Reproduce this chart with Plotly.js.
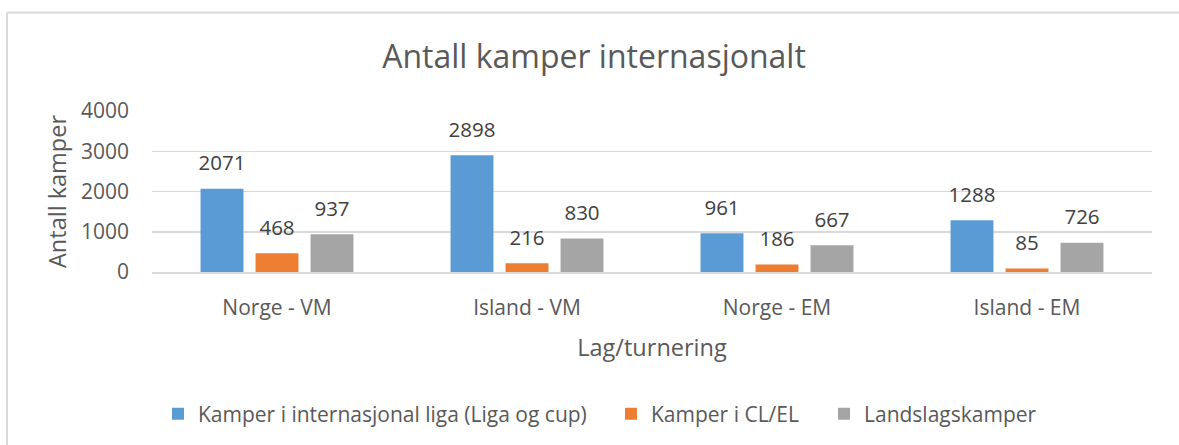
<!DOCTYPE html>
<html>
<head>
<meta charset="utf-8">
<script src="https://cdn.plot.ly/plotly-3.0.1.min.js"></script>
<style>html,body{margin:0;padding:0;background:#fff;}#chart{width:1179px;height:445px;}</style>
</head>
<body>
<div id="chart"></div>
<script>
const categories = ["Norge - VM", "Island - VM", "Norge - EM", "Island - EM"];
const seriesNames = ["Kamper i internasjonal liga (Liga og cup)", "Kamper i CL/EL", "Landslagskamper"];
const ligaCup = [2071, 2898, 961, 1288];
const clEl = [468, 216, 186, 85];
const landslag = [937, 830, 667, 726];
const colors = ["#5B9BD5", "#ED7D31", "#A5A5A5"];
const yTicks = [0, 1000, 2000, 3000, 4000];

const font = "Open Sans, sans-serif";
const allSeries = [ligaCup, clEl, landslag];
const legendIds = ["legend", "legend2", "legend3"];
const gap = 0.34;

const barTraces = allSeries.map((vals, i) => ({
  type: "bar",
  name: seriesNames[i],
  x: categories,
  y: vals,
  marker: {color: colors[i]},
  legend: legendIds[i],
  hoverinfo: "x+y+name"
}));

const labelTraces = allSeries.map((vals, i) => ({
  type: "scatter",
  mode: "markers+text",
  x: categories,
  y: vals,
  text: vals.map(String),
  textposition: "top center",
  textfont: {family: font, size: 20.5, color: "#404040"},
  marker: {size: 20, opacity: 0, color: colors[i]},
  cliponaxis: false,
  showlegend: false,
  hoverinfo: "skip"
}));

const legendBase = {orientation: "h", xanchor: "left", y: (273-414)/162, yanchor: "middle",
  font: {family: font, size: 21, color: "#595959"}, itemwidth: 30, bgcolor: "rgba(0,0,0,0)"};
const markerCenters = [179, 632, 845];
const legendX = markerCenters.map(c => (c - 18 - 3 - 152) / 1000);

const layout = {
  width: 1179, height: 445,
  margin: {l: 152, r: 27, t: 111, b: 172},
  paper_bgcolor: "#fff", plot_bgcolor: "#fff",
  barmode: "group",
  bargap: gap,
  bargroupgap: 0.22,
  scattermode: "group",
  scattergap: gap,
  title: {text: "Antall kamper internasjonalt", font: {family: font, size: 32, color: "#595959"},
          x: 594/1179, xref: "container", xanchor: "center", y: 1 - 57/445, yref: "container", yanchor: "middle"},
  xaxis: {
    type: "category",
    tickfont: {family: font, size: 21, color: "#595959"},
    showgrid: false, showline: true, linecolor: "#d9d9d9", linewidth: 1.5,
    ticks: "", ticklabelstandoff: 16,
    title: {text: "Lag/turnering", font: {family: font, size: 23.5, color: "#595959"}, standoff: 20}
  },
  yaxis: {
    range: [0, 4000],
    tickvals: yTicks,
    ticktext: yTicks.map(String),
    tickfont: {family: font, size: 21, color: "#595959"},
    showgrid: true, gridcolor: "#d9d9d9", gridwidth: 1.5,
    zeroline: false, showline: false, ticks: "", ticklabelstandoff: 22,
    title: {text: "Antall kamper", font: {family: font, size: 23.5, color: "#595959"}, standoff: 7}
  },
  showlegend: true,
  legend: Object.assign({}, legendBase, {x: legendX[0]}),
  legend2: Object.assign({}, legendBase, {x: legendX[1]}),
  legend3: Object.assign({}, legendBase, {x: legendX[2]}),
  shapes: [
    {type: "line", xref: "paper", yref: "paper", x0: -0.145, x1: 1.1, y0: (273-12)/162, y1: (273-12)/162, line: {color: "#d9d9d9", width: 2}},
    {type: "line", xref: "paper", yref: "paper", x0: -0.145, x1: -0.145, y0: (273-12)/162, y1: -1.2, line: {color: "#d9d9d9", width: 2}}
  ]
};

Plotly.newPlot("chart", barTraces.concat(labelTraces), layout, {displayModeBar: false, staticPlot: true});
</script>
</body>
</html>
